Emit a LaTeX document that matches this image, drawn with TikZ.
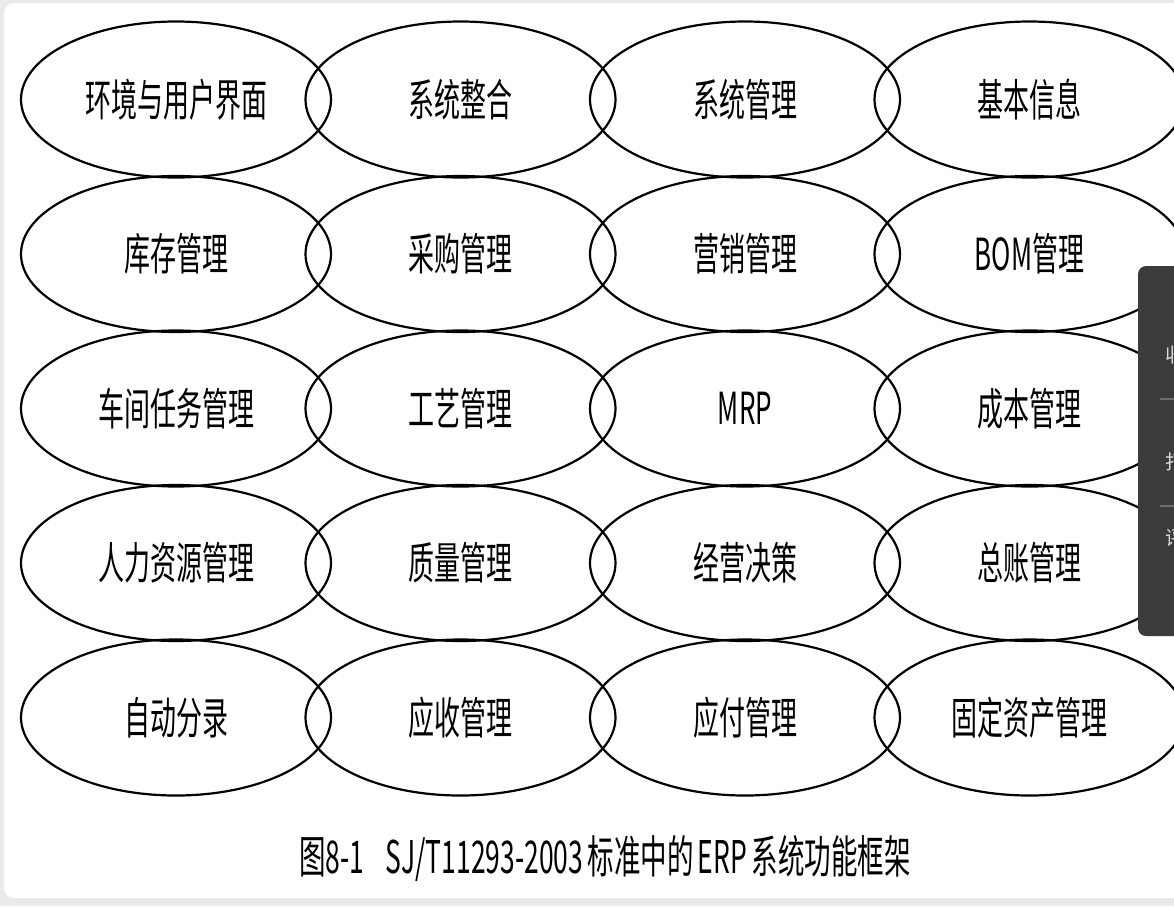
\documentclass[tikz,border=0pt]{standalone}
\usepackage{fontspec}
\usepackage{graphicx}
\newfontfamily\cjk{Noto Sans CJK SC}
\usetikzlibrary{shapes.geometric}
\definecolor{framegray}{HTML}{EAEAEA}
\definecolor{panelgray}{HTML}{3B3B3B}
\definecolor{panelline}{HTML}{6E6E6E}
\newcommand{\tallText}[1]{\scalebox{1}[1.7]{#1}}

\begin{document}
\begin{tikzpicture}[x=1pt, y=-1pt,
    module/.style={ellipse, draw=black, line width=2.2pt, minimum width=310pt,
        minimum height=156pt, inner sep=0pt, font=\cjk\fontsize{26}{26}\selectfont},
    caption/.style={font=\cjk\fontsize{26.5}{26}\selectfont},
    paneltext/.style={anchor=west, text=white!85!black, font=\cjk\fontsize{20}{20}\selectfont}]
    \useasboundingbox (0,0) rectangle (1174,906);
    \clip (0,0) rectangle (1174,906);
    % page frame
    \fill[framegray] (0,0) rectangle (1174,906);
    \fill[white, rounded corners=10pt] (4,3) rectangle (1200,898);

    % row 1
    \node[module] (env)     at (176,99.5)   {\tallText{环境与用户界面}};
    \node[module] (integ)   at (460.5,99.5) {\tallText{系统整合}};
    \node[module] (sysman)  at (745,99.5)   {\tallText{系统管理}};
    \node[module] (basic)   at (1029.5,99.5) {\tallText{基本信息}};
    % row 2
    \node[module] (stock)   at (176,254)    {\tallText{库存管理}};
    \node[module] (purch)   at (460.5,254)  {\tallText{采购管理}};
    \node[module] (sales)   at (745,254)    {\tallText{营销管理}};
    \node[module] (bom)     at (1029.5,254) {\tallText{BOM管理}};
    % row 3
    \node[module] (shop)    at (176,408.5)  {\tallText{车间任务管理}};
    \node[module] (route)   at (460.5,408.5) {\tallText{工艺管理}};
    \node[module] (mrp)     at (745,408.5)  {\tallText{MRP}};
    \node[module] (cost)    at (1029.5,408.5) {\tallText{成本管理}};
    % row 4
    \node[module] (hr)      at (176,563)    {\tallText{人力资源管理}};
    \node[module] (quality) at (460.5,563)  {\tallText{质量管理}};
    \node[module] (decide)  at (745,563)    {\tallText{经营决策}};
    \node[module] (ledger)  at (1029.5,563) {\tallText{总账管理}};
    % row 5
    \node[module] (autopost) at (176,717.5) {\tallText{自动分录}};
    \node[module] (recv)    at (460.5,717.5) {\tallText{应收管理}};
    \node[module] (pay)     at (745,717.5)  {\tallText{应付管理}};
    \node[module] (assets)  at (1029.5,717.5) {\tallText{固定资产管理}};

    % caption
    \node[caption] (cap) at (605,859)
        {\tallText{图8-1\hspace{0.8em}SJ/T11293-2003\,标准中的\,ERP\,系统功能框架}};

    % side panel of the viewer
    \fill[panelgray, rounded corners=8pt] (1138,266) rectangle (1200,636);
    \draw[panelline, line width=1.2pt] (1160,399) -- (1180,399);
    \draw[panelline, line width=1.2pt] (1160,506) -- (1180,506);
    \node[paneltext] (fav)   at (1162,355) {收};
    \node[paneltext] (print) at (1162,462) {打};
    \node[paneltext] (cmt)   at (1162,538) {评};
\end{tikzpicture}
\end{document}
